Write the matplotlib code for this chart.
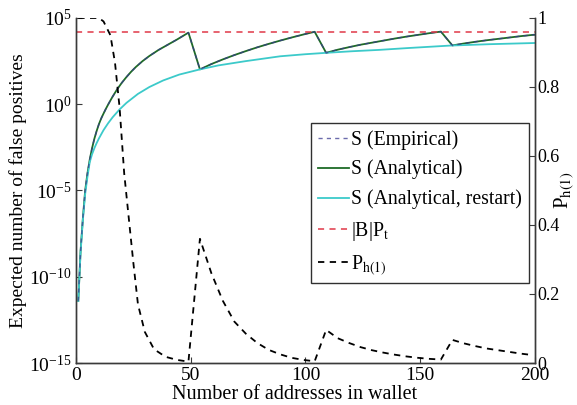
import numpy as np
import matplotlib
matplotlib.use("Agg")
import matplotlib.pyplot as plt

plt.rcParams['font.family'] = ['Liberation Serif', 'DejaVu Serif']
plt.rcParams['mathtext.fontset'] = 'stix'
plt.rcParams['mathtext.default'] = 'regular'

# ---- data ----
# S (Analytical): log10 of expected number of false positives
x_analytical = [1, 2, 3, 4, 5, 6, 7, 8, 9, 10, 11, 12, 13, 14, 15, 16, 18, 20, 22, 24,
                26, 29, 32, 36, 40, 44, 49,
                54, 59, 64, 69, 74, 79, 84, 89, 94, 99, 104,
                109, 114, 119, 124, 129, 134, 139, 144, 149, 154, 159,
                164, 169, 174, 179, 184, 189, 194, 199, 200]
log_s_analytical = [-11.4, -8.5, -6.6, -5.0, -4.0, -3.2, -2.55, -2.0, -1.55, -1.15, -0.82, -0.54,
                    -0.27, -0.02, 0.22, 0.45, 0.88, 1.25, 1.58, 1.88,
                    2.15, 2.5, 2.8, 3.15, 3.45, 3.75, 4.15,
                    2.02, 2.33, 2.6, 2.85, 3.08, 3.3, 3.5, 3.69, 3.87, 4.04, 4.2,
                    2.98, 3.16, 3.31, 3.45, 3.57, 3.69, 3.81, 3.92, 4.02, 4.12, 4.21,
                    3.41, 3.52, 3.62, 3.71, 3.79, 3.87, 3.95, 4.02, 4.03]

# S (Empirical) coincides with the analytical curve
x_empirical = x_analytical
log_s_empirical = log_s_analytical

# S (Analytical, restart)
x_restart = [1, 2, 3, 4, 5, 6, 7, 8, 9, 10, 12, 14, 16, 19, 22, 27, 32, 38, 45, 54,
             62, 74, 89, 100, 109, 120, 132, 145, 163, 180, 200]
log_s_restart = [-11.4, -8.6, -6.7, -5.2, -4.2, -3.35, -2.9, -2.55, -2.25, -1.98, -1.5, -1.1,
                 -0.75, -0.3, 0.08, 0.6, 1.0, 1.38, 1.72, 2.02,
                 2.25, 2.5, 2.78, 2.9, 2.98, 3.07, 3.15, 3.26, 3.40, 3.48, 3.55]

# |B| P_t threshold
x_threshold = [0, 200]
log_threshold = [4.21, 4.21]

# P_h(1) (right axis)
x_ph1 = [1, 5, 10, 12, 15, 17, 19, 21, 23, 25, 27, 30, 34, 39, 44, 49,
         54, 59, 64, 69, 74, 79, 84, 89, 94, 99, 104,
         109, 114, 119, 124, 129, 134, 139, 144, 149, 154, 159,
         164, 169, 174, 179, 184, 189, 194, 199]
ph1 = [1.0, 1.0, 1.0, 0.99, 0.95, 0.87, 0.74, 0.55, 0.42, 0.29, 0.17, 0.09, 0.04, 0.018, 0.009, 0.004,
       0.36, 0.26, 0.18, 0.12, 0.085, 0.058, 0.038, 0.025, 0.015, 0.009, 0.005,
       0.096, 0.072, 0.058, 0.046, 0.037, 0.030, 0.024, 0.019, 0.015, 0.012, 0.010,
       0.067, 0.057, 0.049, 0.042, 0.037, 0.032, 0.027, 0.023]

labels = ['S (Empirical)', 'S (Analytical)', 'S (Analytical, restart)',
          r'|B|P$_{\mathrm{t}}$', r'P$_{\mathrm{h(1)}}$']
xticks = [0, 50, 100, 150, 200]
right_ticks = [0, 0.2, 0.4, 0.6, 0.8, 1]
right_ticklabels = ['0', '0.2', '0.4', '0.6', '0.8', '1']

# ---- figure ----
fig = plt.figure(figsize=(5.77, 4.05), dpi=100)
ax = fig.add_axes([0.1317, 0.1037, 0.7955, 0.8519])

spine_col = '#3a3a3a'
lw = 1.3
l_an, = ax.plot(x_analytical, 10 ** np.array(log_s_analytical), color='#1e6b26', lw=lw)
l_re, = ax.plot(x_restart, 10 ** np.array(log_s_restart), color='#3ccaca', lw=lw)
l_em, = ax.plot(x_empirical, 10 ** np.array(log_s_empirical), color='#3a3a90', lw=1.0,
                ls=(0, (3, 3)), alpha=0.75)
l_th, = ax.plot(x_threshold, 10 ** np.array(log_threshold), color='#e03848', lw=1.1,
                ls=(0, (4, 3.5)))

ax.set_yscale('log')
ax.set_ylim(1e-15, 1e5)
ax.set_xlim(0, 200)
ax.set_yticks([1e-15, 1e-10, 1e-5, 1e0, 1e5])
ax.minorticks_off()
ax.set_xticks(xticks)
ax.set_xticklabels([str(t) for t in xticks])
ax.tick_params(direction='in', length=4, labelsize=14, color=spine_col, pad=3)
ax.set_xlabel('Number of addresses in wallet', fontsize=14.5)
ax.xaxis.set_label_coords(0.477, -0.064)
ax.set_ylabel('Expected number of false positives', fontsize=14, labelpad=2)

ax2 = ax.twinx()
l_ph, = ax2.plot(x_ph1, ph1, color='black', lw=1.3, ls=(0, (3.5, 3)))
ax2.set_ylim(0, 1)
ax2.set_yticks(right_ticks)
ax2.set_yticklabels(right_ticklabels)
ax2.tick_params(direction='in', length=4, labelsize=13, color=spine_col, pad=2)
ax2.set_ylabel(r'P$_{\mathrm{h(1)}}$', fontsize=15, rotation=90, va='top')
ax2.yaxis.set_label_coords(1.038, 0.50)

for a in (ax, ax2):
    a.spines['top'].set_visible(False)
    for s in ('left', 'right', 'bottom'):
        a.spines[s].set_color(spine_col)
        a.spines[s].set_linewidth(1.0)

leg = ax2.legend([l_em, l_an, l_re, l_th, l_ph], labels,
                 loc='upper right', bbox_to_anchor=(0.987, 0.696),
                 fontsize=14.2, frameon=True, fancybox=False, framealpha=1,
                 edgecolor='#303030', handlelength=1.6, handletextpad=0.1,
                 borderpad=0.35, labelspacing=0.52, borderaxespad=0)
leg.get_frame().set_linewidth(1.0)

fig.savefig('out.png', dpi=100)
